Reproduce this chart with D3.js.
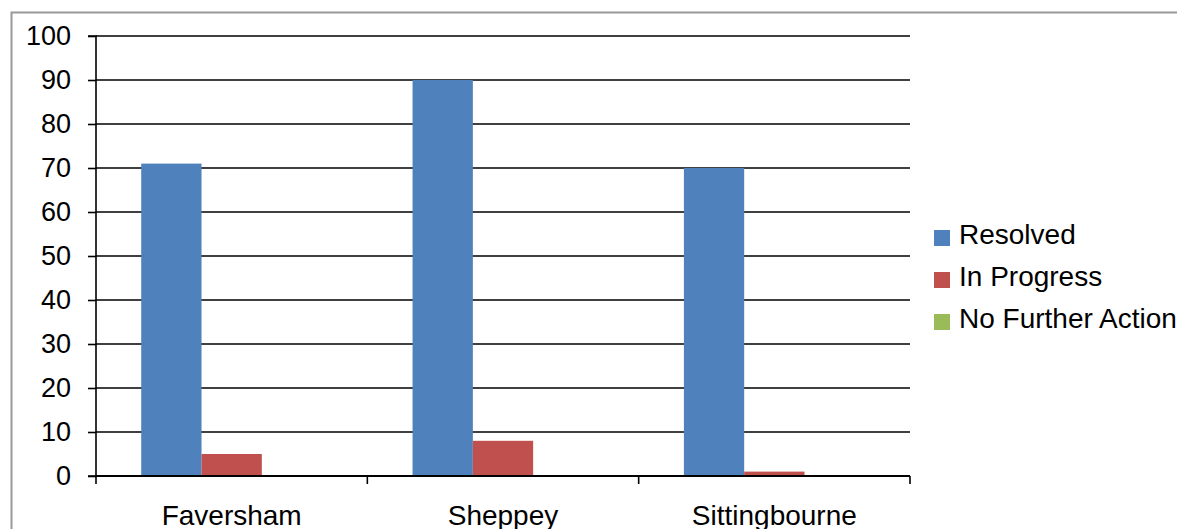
<!DOCTYPE html>
<html><head><meta charset="utf-8">
<script src="https://cdn.jsdelivr.net/npm/d3@7"></script>
<style>html,body{margin:0;padding:0;background:#fff;overflow:hidden}</style>
</head><body>
<svg id="c" width="1177" height="529"></svg>
<script>
const categories = ["Faversham", "Sheppey", "Sittingbourne"];
const seriesNames = ["Resolved", "In Progress", "No Further Action"];
const resolved = [71, 90, 70];
const inProgress = [5, 8, 1];
const noFurtherAction = [0, 0, 0];
const yTicks = [0, 10, 20, 30, 40, 50, 60, 70, 80, 90, 100];
const colors = ["#4F81BD", "#C0504D", "#9BBB59"];

const series = [resolved, inProgress, noFurtherAction];
const svg = d3.select("#c");
const font = "Liberation Sans, Arial, sans-serif";

// outer border
svg.append("path").attr("d", "M11.5,529 V12.5 H1177")
  .attr("fill", "none").attr("stroke", "#999").attr("stroke-width", 2);

const x0 = 96, x1 = 910, yTop = 36, yBot = 476;
const x = d3.scaleBand().domain(categories).range([x0, x1]).paddingInner(0).paddingOuter(0);
const y = d3.scaleLinear().domain([0, 100]).range([yBot, yTop]);
const barW = x.bandwidth() / 4.5;

// gridlines
svg.append("g").selectAll("line").data(yTicks).join("line")
  .attr("x1", x0).attr("x2", x1).attr("y1", d => y(d)).attr("y2", d => y(d))
  .attr("stroke", "#000").attr("stroke-width", 1.6);

// bars
series.forEach((vals, si) => {
  svg.append("g").selectAll("rect").data(vals).join("rect")
    .attr("x", (d, i) => x(categories[i]) + barW * 0.75 + si * barW)
    .attr("width", barW)
    .attr("y", d => y(d))
    .attr("height", d => yBot - y(d))
    .attr("fill", colors[si]);
});

// y axis
const yAxis = d3.axisLeft(y).tickValues(yTicks).tickSize(8).tickPadding(17);
const ya = svg.append("g").attr("transform", `translate(${x0},0)`).call(yAxis);
ya.select(".domain").attr("stroke", "#000").attr("stroke-width", 1.6).attr("d", `M-8,${yTop}H0V${yBot}H-8`);
ya.selectAll(".tick line").attr("stroke", "#000").attr("stroke-width", 1.6);
ya.selectAll("text").attr("font-family", font).attr("font-size", 27).attr("fill", "#000");

// x axis
const xa = svg.append("g").attr("transform", `translate(0,${yBot})`);
xa.append("line").attr("x1", x0).attr("x2", x1).attr("y1", 0).attr("y2", 0)
  .attr("stroke", "#000").attr("stroke-width", 2);
const xTickPos = categories.map(c => x(c)).concat([x1]);
xa.selectAll("line.t").data(xTickPos).join("line").attr("class", "t")
  .attr("x1", d => d).attr("x2", d => d).attr("y1", 0).attr("y2", 8)
  .attr("stroke", "#000").attr("stroke-width", 1.6);
xa.selectAll("text").data(categories).join("text")
  .attr("x", d => x(d) + x.bandwidth() / 2).attr("y", 49)
  .attr("text-anchor", "middle").attr("font-family", font).attr("font-size", 28)
  .attr("fill", "#000").text(d => d);

// legend
const lg = svg.append("g").attr("transform", "translate(934,0)");
seriesNames.forEach((n, i) => {
  const by = 244 + i * 42;
  lg.append("rect").attr("x", 0).attr("y", by - 14).attr("width", 16).attr("height", 16).attr("fill", colors[i]);
  lg.append("text").attr("x", 25).attr("y", by).attr("font-family", font).attr("font-size", 28)
    .attr("fill", "#000").text(n);
});
</script>
</body></html>
